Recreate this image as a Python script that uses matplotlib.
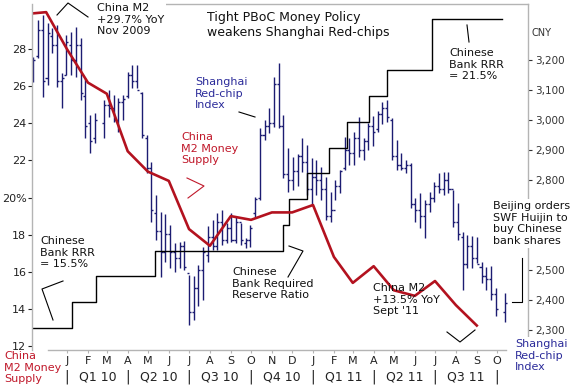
import numpy as np
import pandas as pd
import matplotlib
matplotlib.use("Agg")
import matplotlib.pyplot as plt
import matplotlib.dates as mdates
from matplotlib.lines import Line2D
from matplotlib.transforms import blended_transform_factory

plt.rcParams['font.family'] = ['DejaVu Sans']
plt.rcParams['font.size'] = 8

# ===============================
# DATA
# ===============================
# China M2 money supply, YoY % (left axis)
m2_months = pd.date_range("2009-11-01", "2011-09-01", freq="MS")
m2_yoy = [29.9, 30.0, 28.0, 26.2, 25.6, 22.5, 21.4, 20.9, 18.3, 17.4, 19.0, 18.8,
          19.2, 19.2, 19.6, 16.8, 15.4, 16.3, 15.0, 14.7, 15.5, 14.2, 13.1]

# Chinese bank required reserve ratio, % (hidden scale)
rrr_dates = pd.to_datetime(["2009-11-12", "2010-01-08", "2010-02-13", "2010-05-11",
                            "2010-11-17", "2010-11-26", "2010-12-23", "2011-01-24",
                            "2011-02-21", "2011-03-25", "2011-04-21", "2011-06-26",
                            "2011-10-08"])
rrr_vals = [15.5, 16.0, 16.5, 17.0, 17.5, 18.0, 18.5, 19.0, 19.5, 20.0, 20.5, 21.5, 21.5]

# Shanghai Red-chip index, weekly bars (right axis, CNY)
weeks = pd.date_range("2009-11-12", periods=101, freq="7D")
nan = np.nan
highs = [3210, 3333, 3350, 3323, 3307, 3317, 3157, 3283, 3293, 3310,
         3273, 3140, 3017, 3023, nan, 3067, 3100, 3083, 3073, 3083,
         3160, 3183, 3183, 3093, 2950, 2860, 2750, 2693, 2687, 2650,
         2590, 2593, 2597, 2483, 2480, 2517, 2577, 2647, 2667, 2690,
         2700, 2657, 2690, 2677, 2657, 2607, 2650, 2743, 2973, 3000,
         3040, 3143, 3190, 3017, 2907, 2877, 2887, 2940, 2917, 2873,
         2867, 2843, 2810, 2760, 2800, 2833, 2943, 2940, 2960, 3010,
         2940, 2990, 3013, 3030, 3060, 3067, 3007, 2933, 2890, 2867,
         2857, 2740, 2757, 2733, 2760, 2793, 2823, 2827, 2827, 2767,
         2723, 2627, 2617, 2613, 2610, 2527, 2510, 2513, 2440, nan,
         2423]
lows = [3127, 3207, 3077, 3117, 3223, 3110, 3040, 3150, 3150, 3143,
        3067, 2940, 2890, 2923, nan, 2940, 3010, 2993, 2960, 3000,
        3073, 3107, 3107, 2940, 2823, 2660, 2600, 2477, 2527, 2507,
        2493, 2507, 2500, 2317, 2333, 2380, 2400, 2527, 2567, 2567,
        2583, 2590, 2593, 2590, 2583, 2573, 2577, 2677, 2733, 2933,
        2957, 2977, 2973, 2807, 2760, 2767, 2780, 2827, 2750, 2717,
        2750, 2733, 2667, 2660, 2733, 2757, 2833, 2850, 2850, 2877,
        2867, 2900, 2913, 2960, 2987, 2993, 2867, 2833, 2833, 2823,
        2707, 2660, 2640, 2607, 2693, 2727, 2757, 2750, 2757, 2643,
        2600, 2433, 2507, 2507, 2523, 2457, 2433, 2400, 2347, nan,
        2327]
opens = [3190, 3215, 3300, 3140, 3280, 3250, 3130, 3150, 3250, 3200,
         3250, 3080, 2990, 2940, nan, 2990, 3050, 3040, 3000, 3060,
         3080, 3150, 3130, 3090, 2940, 2840, 2690, 2630, 2560, 2620,
         2560, 2540, 2580, 2490, 2360, 2440, 2500, 2550, 2610, 2580,
         2660, 2600, 2640, 2600, 2660, 2590, 2600, 2690, 2740, 2950,
         2980, 2990, 3120, 2980, 2820, 2800, 2830, 2880, 2860, 2770,
         2810, 2800, 2770, 2680, 2700, 2780, 2840, 2900, 2890, 2940,
         2900, 2930, 2980, 2970, 3020, 3040, 3000, 2880, 2850, 2840,
         2850, 2720, 2700, 2680, 2720, 2740, 2780, 2770, 2800, 2770,
         2660, 2610, 2520, 2580, 2540, 2510, 2480, 2470, 2420, nan,
         2360]
closes = [3200, 3300, 3130, 3290, 3250, 3130, 3140, 3260, 3200, 3250,
          3090, 2980, 2930, 3000, nan, 3050, 3040, 3000, 3060, 3070,
          3150, 3130, 3100, 2950, 2840, 2700, 2630, 2560, 2620, 2560,
          2540, 2580, 2510, 2360, 2440, 2500, 2560, 2610, 2580, 2660,
          2600, 2640, 2600, 2660, 2600, 2600, 2640, 2735, 2950, 2980,
          2990, 3120, 2980, 2820, 2800, 2830, 2880, 2860, 2770, 2810,
          2800, 2770, 2680, 2700, 2780, 2830, 2900, 2890, 2940, 2900,
          2930, 2980, 2960, 3020, 3040, 3010, 2880, 2850, 2840, 2850,
          2720, 2700, 2680, 2720, 2740, 2780, 2770, 2800, 2770, 2660,
          2620, 2520, 2580, 2540, 2520, 2480, 2470, 2420, 2370, nan,
          2390]

month_letters = ["J", "F", "M", "A", "M", "J", "J", "A", "S", "O", "N", "D",
                 "J", "F", "M", "A", "M", "J", "J", "A", "S", "O"]
quarter_labels = ["Q1 10", "Q2 10", "Q3 10", "Q4 10", "Q1 11", "Q2 11", "Q3 11"]
# right-axis labels; 2,600 and 2,700 sit behind the "Beijing orders" note
cny_ticks = [2300, 2400, 2500, 2600, 2700, 2800, 2900, 3000, 3100, 3200]
cny_labels = ["2,300", "2,400", "2,500", "", "", "2,800", "2,900", "3,000", "3,100", "3,200"]

# ===============================
# COLOURS
# ===============================
NAVY = "#1c1c72"
RED = "#b3121f"
RED_TXT = "#c0182a"
BLUE_TXT = "#2b2b9a"
GRID = "#b4b4b4"

W, H = 576, 391
fig = plt.figure(figsize=(W / 100, H / 100), dpi=100)
fig.patch.set_facecolor("white")

rect = [32 / W, 1 - 350 / H, 496 / W, 346 / H]
ax = fig.add_axes(rect)          # M2, left scale
ax_r = ax.twinx()                # red-chip bars, right scale
ax_q = ax.twinx()                # RRR, hidden scale
ax_r.set_zorder(1)
ax_q.set_zorder(2)
ax.set_zorder(3)
ax.patch.set_visible(False)
ax_q.patch.set_visible(False)

x0 = mdates.date2num(pd.Timestamp("2009-11-10"))
x1 = mdates.date2num(pd.Timestamp("2011-11-16"))
for a in (ax, ax_r, ax_q):
    a.set_xlim(x0, x1)
    for s in a.spines.values():
        s.set_visible(False)

# ---- weekly bars
wk = mdates.date2num(weeks)
hi = np.array(highs, float)
lo = np.array(lows, float)
op = np.array(opens, float)
cl = np.array(closes, float)
ok = ~np.isnan(hi)
ax_r.vlines(wk[ok], lo[ok], hi[ok], color=NAVY, lw=1.0)
ax_r.hlines(op[ok], wk[ok] - 3, wk[ok], color=NAVY, lw=1.0)
ax_r.hlines(cl[ok], wk[ok], wk[ok] + 3, color=NAVY, lw=1.0)
ax_r.set_ylim(2233.3, 3386.7)
ax_r.set_yticks(cny_ticks)
ax_r.set_yticklabels(cny_labels)
ax_r.tick_params(axis="y", right=True, left=False, direction="out", length=3,
                 pad=2, labelsize=7.5, colors="#333333")

# ---- RRR step line
ax_q.step(mdates.date2num(rrr_dates), rrr_vals, where="post", color="black", lw=1.0)
ax_q.set_ylim(15.073, 21.79)
ax_q.set_yticks([])
ax_q.tick_params(axis="both", length=0, labelright=False, labelbottom=False)

# ---- M2 line
ax.plot(mdates.date2num(m2_months), m2_yoy, color=RED, lw=1.9, solid_joinstyle="round")
ax.set_ylim(11.78, 30.44)
ax.set_yticks(range(12, 29, 2))
ax.set_yticklabels([f"{v}%" if v == 20 else str(v) for v in range(12, 29, 2)])
ax.tick_params(axis="y", direction="out", length=3, pad=1, labelsize=8, colors="#222222")

# month ticks
month_starts = pd.date_range("2010-01-01", "2011-10-01", freq="MS")
ax.set_xticks(mdates.date2num(month_starts))
ax.set_xticklabels(month_letters)
ax.tick_params(axis="x", direction="out", length=2, pad=2, labelsize=8,
               colors="#222222")
ax.tick_params(axis="x", color=GRID)

trans = blended_transform_factory(ax.transData, ax.transAxes)
q_starts = pd.date_range("2010-01-01", "2011-10-01", freq="QS")
qn = mdates.date2num(q_starts)
for i, lab in enumerate(quarter_labels):
    ax.text((qn[i] + qn[i + 1]) / 2, -0.078, lab, transform=trans, ha="center",
            va="center", fontsize=9, color="#222222")
for q in qn:
    ax.text(q, -0.078, "|", transform=trans, ha="center", va="center",
            fontsize=10, color="#222222")

# frame pieces (partly hidden behind notes in the original)
ax.plot([0, 0], [0, 1], transform=ax.transAxes, color=GRID, lw=1, clip_on=False)
ax.plot([1, 1], [0.04, 1], transform=ax.transAxes, color=GRID, lw=1, clip_on=False)
ax.plot([0.254, 1], [1, 1], transform=ax.transAxes, color=GRID, lw=1, clip_on=False)
ax.plot([0.032, 0.955], [0, 0], transform=ax.transAxes, color=GRID, lw=1, clip_on=False)


# ===============================
# TEXTS AND CONNECTORS
# ===============================
def note(x, y, s, color="#111111", size=8, box=False, pad=1.5, **kw):
    bb = dict(facecolor="white", edgecolor="none", pad=pad) if box else None
    fig.text(x / W, 1 - y / H, s, ha="left", va="top", fontsize=size, color=color,
             zorder=10, linespacing=1.2, bbox=bb, **kw)


def link(xs, ys, color="black"):
    fig.add_artist(Line2D([x / W for x in xs], [1 - y / H for y in ys],
                          transform=fig.transFigure, color=color, lw=0.8, zorder=10))


note(97, 3, "China M2\n+29.7% YoY\nNov 2009", box=True)
link([57, 68, 88], [15, 3, 17])

note(207, 11, "Tight PBoC Money Policy\nweakens Shanghai Red-chips", size=9)

note(449, 48, "Chinese\nBank RRR\n= 21.5%")
link([467, 469], [25, 42])

note(532, 28, "CNY", size=7, color="#333333")

note(195, 77, "Shanghai\nRed-chip\nIndex", color=BLUE_TXT)
link([239, 255], [112, 117])

note(181, 132, "China\nM2 Money\nSupply", color=RED_TXT)
link([187, 204, 188], [178, 186, 198], color=RED_TXT)

note(40, 236, "Chinese\nBank RRR\n= 15.5%")
link([63, 42, 53], [281, 289, 320])

note(232, 267, "Chinese\nBank Required\nReserve Ratio")
link([289, 303, 288], [246, 251, 277])

note(373, 283, "China M2\n+13.5% YoY\nSept '11")
link([447, 460, 475], [332, 342, 330])

note(493, 201, "Beijing orders\nSWF Huijin to\nbuy Chinese\nbank shares", box=True)
link([522, 522, 512], [258, 302, 302])

note(4, 351, "China\nM2 Money\nSupply", color=RED_TXT, size=8)
note(515, 339, "Shanghai\nRed-chip\nIndex", color=BLUE_TXT, size=8, box=True)

fig.savefig("out.png", dpi=100)
